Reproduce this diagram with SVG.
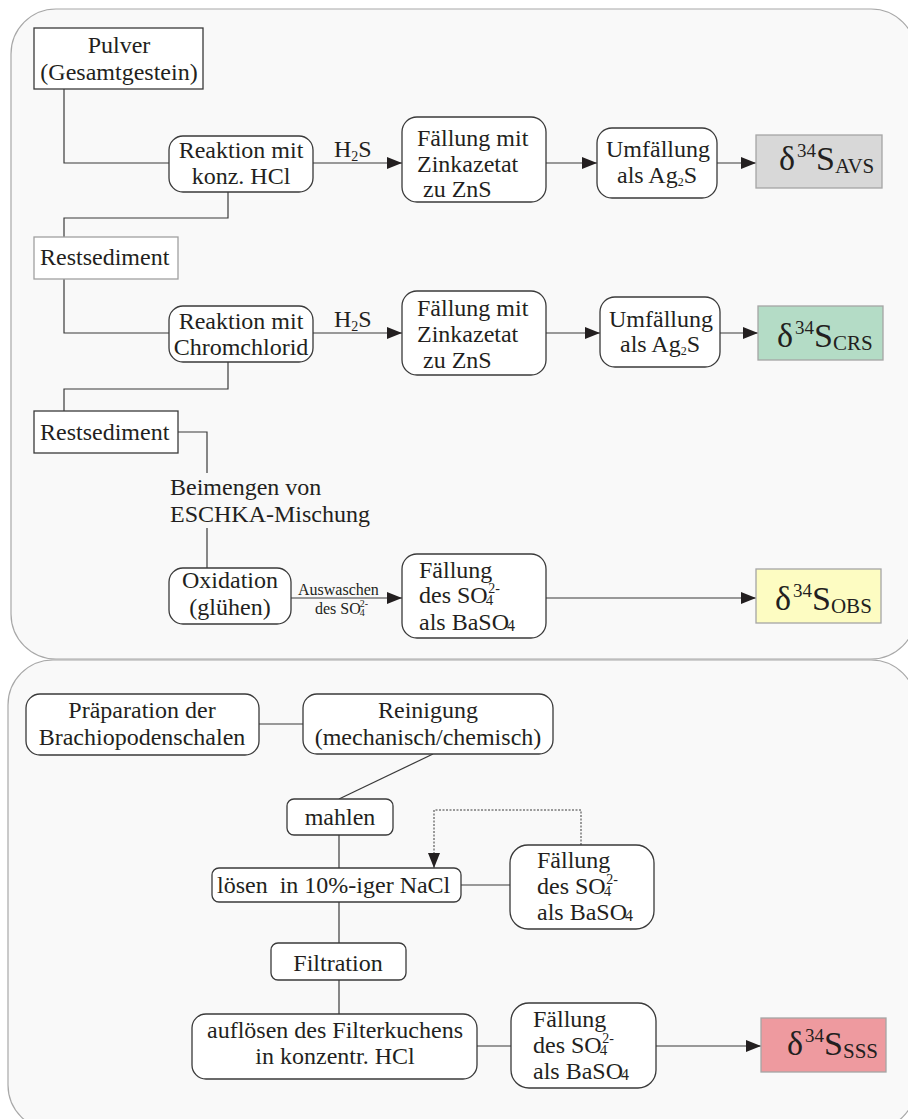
<svg xmlns="http://www.w3.org/2000/svg" width="908" height="1119" viewBox="0 0 908 1119">
  <style>
    .panel { fill: #f9f9f9; stroke: #a8a8a8; stroke-width: 1.2; }
    .box { fill: #ffffff; stroke: #3a3a3a; stroke-width: 1.3; }
    .box-light { fill: #ffffff; stroke: #a0a0a0; stroke-width: 1.3; }
    .t { font-family: "Liberation Serif", "Times New Roman", serif; font-size: 24px; fill: #231f20; }
    .c { text-anchor: middle; }
    .small { font-family: "Liberation Serif", "Times New Roman", serif; font-size: 16px; fill: #231f20; }
    .big { font-family: "Liberation Serif", "Times New Roman", serif; font-size: 34px; fill: #231f20; }
    .link { fill: none; stroke: #3a3a3a; stroke-width: 1.2; }
    .dotted { fill: none; stroke: #3a3a3a; stroke-width: 1; stroke-dasharray: 2 1.5; }
  </style>
  <defs>
    <marker id="arrow" markerUnits="userSpaceOnUse" markerWidth="16" markerHeight="12" refX="15" refY="6" orient="auto">
      <path d="M0,0 L15,6 L0,12 Z" fill="#231f20"/>
    </marker>
  </defs>

  <rect width="908" height="1119" fill="#ffffff"/>

  <!-- panels -->
  <rect class="panel" x="11" y="9" width="905" height="650" rx="45" ry="45"/>
  <rect class="panel" x="8" y="660" width="908" height="470" rx="45" ry="45"/>

  <!-- connectors -->
  <g id="connectors">
    <path class="link" d="M64,89 V163 H169"/>
    <path class="link" d="M313,163 H402" marker-end="url(#arrow)"/>
    <path class="link" d="M546,163 H597" marker-end="url(#arrow)"/>
    <path class="link" d="M717,163 H756" marker-end="url(#arrow)"/>
    <path class="link" d="M228,192 V218 H64 V237"/>
    <path class="link" d="M64,279 V333 H169"/>
    <path class="link" d="M313,333 H402" marker-end="url(#arrow)"/>
    <path class="link" d="M546,333 H600" marker-end="url(#arrow)"/>
    <path class="link" d="M720,333 H758" marker-end="url(#arrow)"/>
    <path class="link" d="M228,362 V389 H64 V411"/>
    <path class="link" d="M178,432 H207 V473"/>
    <path class="link" d="M207,528 V568"/>
    <path class="link" d="M291,598 H402" marker-end="url(#arrow)"/>
    <path class="link" d="M546,598 H756" marker-end="url(#arrow)"/>

    <path class="link" d="M259,724 H303"/>
    <path class="link" d="M433,754 L339,799"/>
    <path class="link" d="M339,835 V868"/>
    <path class="dotted" d="M581,845 V810 H434 V868" marker-end="url(#arrow)"/>
    <path class="link" d="M461,885 H510"/>
    <path class="link" d="M339,902 V943"/>
    <path class="link" d="M339,980 V1014"/>
    <path class="link" d="M477,1046 H511"/>
    <path class="link" d="M656,1046 H761" marker-end="url(#arrow)"/>

    <!-- edge labels -->
    <text class="t" x="334" y="157">H<tspan font-size="14" dy="4">2</tspan><tspan dy="-4">S</tspan></text>
    <text class="t" x="334" y="327">H<tspan font-size="14" dy="4">2</tspan><tspan dy="-4">S</tspan></text>
    <text class="t" x="170" y="495">Beimengen von</text>
    <text class="t" x="170" y="522">ESCHKA-Mischung</text>
    <text class="small" x="298" y="595">Auswaschen</text>
    <text class="small" x="315" y="614">des SO<tspan font-size="10" dx="-1" dy="2">4</tspan><tspan font-size="10" dx="-5" dy="-9">2-</tspan></text>
  </g>

  <!-- upper panel: sulfide and organic sulfur extraction -->
  <g id="pulver">
    <rect class="box" x="34" y="28" width="169" height="61"/>
    <text class="t c" x="119" y="53">Pulver</text>
    <text class="t c" x="119" y="80">(Gesamtgestein)</text>
  </g>

  <g id="reaktion-hcl">
    <rect class="box" x="169" y="136" width="144" height="56" rx="14"/>
    <text class="t c" x="241" y="158">Reaktion mit</text>
    <text class="t c" x="241" y="184">konz. HCl</text>
  </g>

  <g id="faellung-zn-1">
    <rect class="box" x="402" y="117" width="144" height="85" rx="15"/>
    <text class="t" x="417" y="146">Fällung mit</text>
    <text class="t" x="417" y="172">Zinkazetat</text>
    <text class="t" x="423" y="197">zu ZnS</text>
  </g>

  <g id="umfaellung-1">
    <rect class="box" x="597" y="128" width="120" height="70" rx="15"/>
    <text class="t c" x="658" y="157">Umfällung</text>
    <text class="t c" x="657" y="183">als Ag<tspan font-size="12" dy="3">2</tspan><tspan dy="-3">S</tspan></text>
  </g>

  <g id="avs">
    <rect x="756" y="135" width="126" height="53" fill="#d8d8d8" stroke="#a5a5a5" stroke-width="1.3"/>
    <text class="big" x="779" y="170">δ<tspan font-size="19" dx="2" dy="-13">34</tspan><tspan dy="13">S</tspan><tspan font-size="21" dy="3">AVS</tspan></text>
  </g>

  <g id="restsediment-1">
    <rect class="box-light" x="34" y="237" width="144" height="42"/>
    <text class="t" x="40" y="265">Restsediment</text>
  </g>

  <g id="reaktion-cr">
    <rect class="box" x="169" y="306" width="144" height="56" rx="14"/>
    <text class="t c" x="241" y="329">Reaktion mit</text>
    <text class="t c" x="241" y="355">Chromchlorid</text>
  </g>

  <g id="faellung-zn-2">
    <rect class="box" x="402" y="291" width="144" height="84" rx="15"/>
    <text class="t" x="417" y="316">Fällung mit</text>
    <text class="t" x="417" y="342">Zinkazetat</text>
    <text class="t" x="423" y="368">zu ZnS</text>
  </g>

  <g id="umfaellung-2">
    <rect class="box" x="600" y="297" width="120" height="70" rx="15"/>
    <text class="t c" x="661" y="327">Umfällung</text>
    <text class="t c" x="660" y="352">als Ag<tspan font-size="12" dy="3">2</tspan><tspan dy="-3">S</tspan></text>
  </g>

  <g id="crs">
    <rect x="758" y="306" width="125" height="54" fill="#b4dcc6" stroke="#a5a5a5" stroke-width="1.3"/>
    <text class="big" x="777" y="347">δ<tspan font-size="19" dx="2" dy="-13">34</tspan><tspan dy="13">S</tspan><tspan font-size="21" dy="3">CRS</tspan></text>
  </g>

  <g id="restsediment-2">
    <rect class="box" x="34" y="411" width="144" height="42"/>
    <text class="t" x="40" y="440">Restsediment</text>
  </g>

  <g id="oxidation">
    <rect class="box" x="169" y="568" width="122" height="56" rx="14"/>
    <text class="t c" x="230" y="588">Oxidation</text>
    <text class="t c" x="230" y="615">(glühen)</text>
  </g>

  <g id="faellung-ba-1">
    <rect class="box" x="402" y="554" width="144" height="84" rx="15"/>
    <text class="t" x="419" y="578">Fällung</text>
    <text class="t" x="419" y="603">des SO<tspan font-size="15" dx="-2" dy="2">4</tspan><tspan font-size="14" dx="-5" dy="-12">2-</tspan></text>
    <text class="t" x="419" y="630">als BaSO<tspan font-size="16" dx="-2" dy="1">4</tspan></text>
  </g>

  <g id="obs">
    <rect x="756" y="569" width="125" height="54" fill="#fdfcc2" stroke="#a5a5a5" stroke-width="1.3"/>
    <text class="big" x="775" y="610">δ<tspan font-size="19" dx="2" dy="-13">34</tspan><tspan dy="13">S</tspan><tspan font-size="21" dy="3">OBS</tspan></text>
  </g>

  <!-- lower panel: structurally substituted sulfate -->
  <g id="praeparation">
    <rect class="box" x="26" y="694" width="233" height="61" rx="14"/>
    <text class="t c" x="142" y="718">Präparation der</text>
    <text class="t c" x="142" y="745">Brachiopodenschalen</text>
  </g>

  <g id="reinigung">
    <rect class="box" x="303" y="694" width="250" height="60" rx="14"/>
    <text class="t c" x="428" y="718">Reinigung</text>
    <text class="t c" x="428" y="745">(mechanisch/chemisch)</text>
  </g>

  <g id="mahlen">
    <rect class="box" x="287" y="799" width="106" height="36" rx="7"/>
    <text class="t c" x="340" y="825">mahlen</text>
  </g>

  <g id="loesen">
    <rect class="box" x="212" y="868" width="249" height="34" rx="7"/>
    <text class="t" x="217" y="893" xml:space="preserve">lösen  in 10%-iger NaCl</text>
  </g>

  <g id="faellung-ba-2">
    <rect class="box" x="510" y="845" width="144" height="84" rx="18"/>
    <text class="t" x="537" y="868">Fällung</text>
    <text class="t" x="537" y="894">des SO<tspan font-size="15" dx="-2" dy="2">4</tspan><tspan font-size="14" dx="-5" dy="-12">2-</tspan></text>
    <text class="t" x="537" y="920">als BaSO<tspan font-size="16" dx="-2" dy="1">4</tspan></text>
  </g>

  <g id="filtration">
    <rect class="box" x="271" y="943" width="135" height="37" rx="7"/>
    <text class="t c" x="338" y="971">Filtration</text>
  </g>

  <g id="aufloesen">
    <rect class="box" x="192" y="1014" width="285" height="65" rx="14"/>
    <text class="t c" x="335" y="1038">auflösen des Filterkuchens</text>
    <text class="t c" x="335" y="1064">in konzentr. HCl</text>
  </g>

  <g id="faellung-ba-3">
    <rect class="box" x="511" y="1003" width="145" height="85" rx="18"/>
    <text class="t" x="533" y="1027">Fällung</text>
    <text class="t" x="533" y="1053">des SO<tspan font-size="15" dx="-2" dy="2">4</tspan><tspan font-size="14" dx="-5" dy="-12">2-</tspan></text>
    <text class="t" x="533" y="1079">als BaSO<tspan font-size="16" dx="-2" dy="1">4</tspan></text>
  </g>

  <g id="sss">
    <rect x="761" y="1018" width="125" height="54" fill="#ee9a9f" stroke="#a5a5a5" stroke-width="1.3"/>
    <text class="big" x="787" y="1055">δ<tspan font-size="19" dx="2" dy="-13">34</tspan><tspan dy="13">S</tspan><tspan font-size="21" dy="3">SSS</tspan></text>
  </g>
</svg>
